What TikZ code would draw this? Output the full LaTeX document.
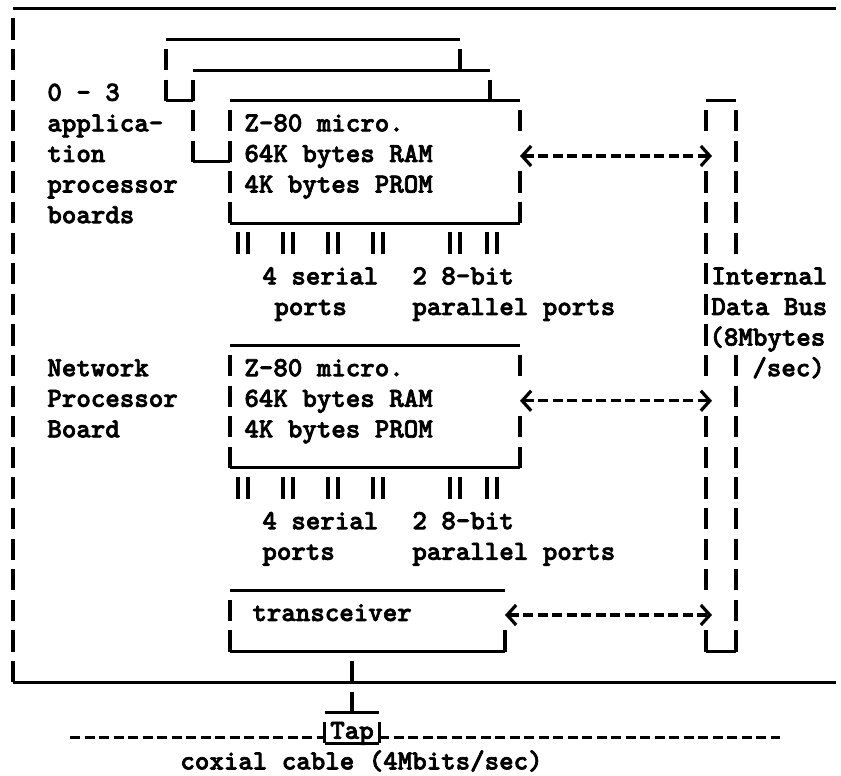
\documentclass[tikz,border=0pt]{standalone}
\usepackage{fontspec}
\newfontfamily\typefont{lmmonolt10-bold.otf}[FakeBold=2.5]
\usetikzlibrary{arrows.meta}

\tikzset{
  txt/.style={font=\typefont\fontsize{13.8}{15.3}\selectfont, inner sep=0pt, anchor=base west},
  board/.style={inner sep=0pt, outer sep=0pt, anchor=north west},
  hrule/.style={line width=1.5pt},
  vrule/.style={line width=1.8pt, dash pattern=on 10.6pt off 4.7pt, dash phase=10.6pt},
  pin/.style={line width=1.8pt},
  wire/.style={line width=1.6pt, dash pattern=on 5pt off 2.25pt},
}

\begin{document}
\begin{tikzpicture}[x=0.5pt, y=-15.3pt, >={Straight Barb[length=4.5pt,width=10pt]}]
    \useasboundingbox (0,-0.294) rectangle (841,25.065);
    % outer frame, open on the right
    \draw[hrule] (13,0) -- (836,0);
    \draw[hrule] (13,22) -- (836,22);
    \draw[vrule] (13,0) -- (13,22);
    % application processor boards, back to front
    \node[board, minimum width=147pt, minimum height=30.6pt] (app-back) at (166,1) {};
    \node[board, minimum width=148.5pt, minimum height=45.9pt] (app-mid) at (193,2) {};
    \node[board, minimum width=145pt, minimum height=61.2pt] (app-cpu) at (230,3) {};
    \draw[hrule] (app-back.north west) -- (app-back.north east);
    \draw[vrule] (app-back.north west) -- (app-back.south west);
    \draw[vrule] (app-back.north east) -- (app-back.east);
    \draw[hrule] (app-back.south west) -- (app-mid.west |- app-back.south);
    \draw[hrule] (app-mid.north west) -- (app-mid.north east);
    \draw[vrule] (app-mid.north west) -- (app-mid.south west);
    \draw[vrule] (app-mid.north east) -- ++(0,1);
    \draw[hrule] (app-mid.south west) -- (app-cpu.west |- app-mid.south);
    \draw[hrule] (app-cpu.north west) -- (app-cpu.north east);
    \draw[hrule] (app-cpu.south west) -- (app-cpu.south east);
    \draw[vrule] (app-cpu.north west) -- (app-cpu.south west);
    \draw[vrule] (app-cpu.north east) -- ++(0,1);
    \draw[vrule] (app-cpu.east) -- (app-cpu.south east);
    % network processor board
    \node[board, minimum width=145pt, minimum height=61.2pt] (np-cpu) at (230,11) {};
    \draw[hrule] (np-cpu.north west) -- (np-cpu.north east);
    \draw[hrule] (np-cpu.south west) -- (np-cpu.south east);
    \draw[vrule] (np-cpu.north west) -- (np-cpu.south west);
    \draw[vrule] (np-cpu.north east) -- ++(0,1);
    \draw[vrule] (np-cpu.east) -- (np-cpu.south east);
    % transceiver
    \node[board, minimum width=137.5pt, minimum height=30.6pt] (xcvr) at (230,19) {};
    \draw[hrule] (xcvr.north west) -- (xcvr.north east);
    \draw[hrule] (xcvr.south west) -- (xcvr.south east);
    \draw[vrule] (xcvr.north west) -- (xcvr.south west);
    \draw[vrule] (xcvr.east) -- (xcvr.south east);
    % internal data bus
    \node[board, minimum width=15pt, minimum height=275.4pt] (bus) at (706,3) {};
    \draw[hrule] (bus.north west) -- (bus.north east);
    \draw[hrule] (bus.south west) -- (bus.south east);
    \draw[vrule] (bus.north west) -- ++(0,1);
    \draw[vrule] (bus.west |- 0,5) -- (bus.west |- 0,12);
    \draw[vrule] (bus.west |- 0,13) -- (bus.west |- 0,19);
    \draw[vrule] (bus.west |- 0,20) -- (bus.south west);
    \draw[vrule] (bus.north east) -- (bus.east |- 0,8);
    \draw[vrule] (bus.east |- 0,11) -- (bus.south east);
    % board to bus links
    \draw[wire,<->] ([yshift=3pt]app-cpu.east) -- ([xshift=3pt,yshift=3pt]app-cpu.east -| bus.west);
    \draw[wire,<->] ([yshift=3pt]np-cpu.east) -- ([xshift=3pt,yshift=3pt]np-cpu.east -| bus.west);
    \draw[wire,<->] ([yshift=3pt]xcvr.east) -- ([xshift=3pt,yshift=3pt]xcvr.east -| bus.west);
    % serial and parallel port pins
    \foreach \px in {243,288,333,378,455,492}
      \foreach \dx in {-5,5} {
        \draw[pin] (\px+\dx,7.28) -- (\px+\dx,8);
        \draw[pin] (\px+\dx,15.28) -- (\px+\dx,16);
      }
    % tap on the coaxial cable
    \node[inner sep=0pt, minimum width=27pt, minimum height=15.3pt] (tap) at (352,23.5) {};
    \draw[vrule] (tap.north |- xcvr.south) -- (tap.north);
    \draw[hrule] (tap.north west) -- (tap.north east);
    \draw[hrule] (tap.south west) -- (tap.south east);
    \draw[vrule] (tap.north west) -- (tap.south west);
    \draw[vrule] (tap.north east) -- (tap.south east);
    \coordinate (cable-w) at (70,23.8);
    \coordinate (cable-e) at (780,23.8);
    \draw[wire] (cable-w) -- (cable-w -| tap.west);
    \draw[wire] (cable-e -| tap.east) -- (cable-e);
    % labels
    \foreach \row/\line in {3/{0 - 3},4/applica-,5/tion,6/processor,7/boards}
      \node[txt] (app-label-\row) at (47,\row) {\line};
    \foreach \row/\line in {12/Network,13/Processor,14/Board}
      \node[txt] (np-label-\row) at (47,\row) {\line};
    \foreach \row/\line in {4/{Z-80 micro.},5/{64K bytes RAM},6/{4K bytes PROM}}
      \node[txt] (app-cpu-\row) at (244,\row) {\line};
    \foreach \row/\line in {12/{Z-80 micro.},13/{64K bytes RAM},14/{4K bytes PROM}}
      \node[txt] (np-cpu-\row) at (244,\row) {\line};
    \node[txt] (app-serial) at (262,9) {4 serial};
    \node[txt] (app-serial-b) at (274,10) {ports};
    \node[txt] (app-par) at (412,9) {2 8-bit};
    \node[txt] (app-par-b) at (412,10) {parallel ports};
    \node[txt] (np-serial) at (262,17) {4 serial};
    \node[txt] (np-serial-b) at (262,18) {ports};
    \node[txt] (np-par) at (412,17) {2 8-bit};
    \node[txt] (np-par-b) at (412,18) {parallel ports};
    \node[txt] (xcvr-label) at (252,20) {transceiver};
    \node[txt] (bus-label-a) at (711,9) {Internal};
    \node[txt] (bus-label-b) at (711,10) {Data Bus};
    \node[txt] (bus-label-c) at (709,11) {(8Mbytes};
    \node[txt] (bus-label-d) at (752,12) {/sec)};
    \node[txt, anchor=base] (tap-label) at (352,23.85) {Tap};
    \node[txt] (cable-label) at (180,24.85) {coxial cable (4Mbits/sec)};
\end{tikzpicture}
\end{document}
